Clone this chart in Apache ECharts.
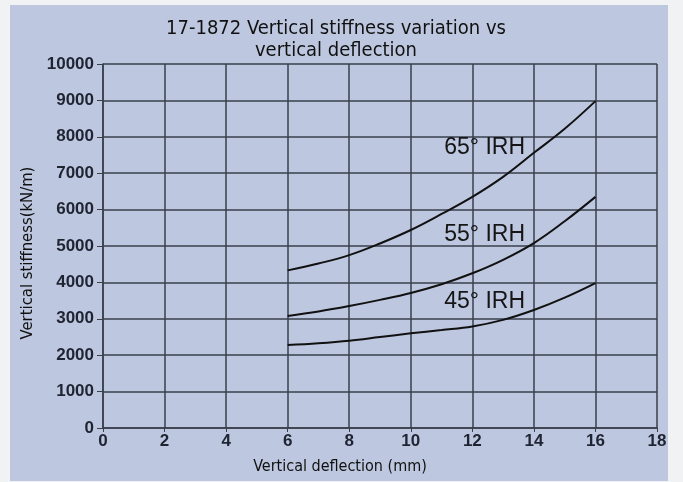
<!DOCTYPE html>
<html>
<head>
<meta charset="utf-8">
<script src="https://cdn.jsdelivr.net/npm/echarts@6/dist/echarts.min.js"></script>
<style>
  html, body { margin: 0; padding: 0; background: #f1f2f4; }
  #chart { width: 683px; height: 482px; }
</style>
</head>
<body>
<div id="chart"></div>
<script>
// deflection (mm)
const deflection = [6, 7, 8, 9, 10, 11, 12, 13, 14, 15, 16]
// stiffness (kN/m) for each rubber hardness
const irh65 = [4330, 4520, 4750, 5070, 5440, 5880, 6350, 6900, 7560, 8220, 8980]
const irh55 = [3080, 3200, 3350, 3520, 3710, 3950, 4250, 4620, 5080, 5680, 6350]
const irh45 = [2280, 2330, 2400, 2500, 2600, 2690, 2790, 2970, 3240, 3580, 3980]
const curveLabels = ['65° IRH', '55° IRH', '45° IRH']
const labelAt = [[12.4, 7690], [12.4, 5300], [12.4, 3460]]

const chart = echarts.init(document.getElementById('chart'))

function pairs(ys) {
  return deflection.map((x, i) => [x, ys[i]])
}

function curve(name, ys, idx) {
  return {
    name: name,
    type: 'line',
    smooth: 0.4,
    symbol: 'none',
    data: pairs(ys),
    lineStyle: { color: '#111', width: 2 },
    markPoint: {
      symbol: 'rect',
      symbolSize: 0,
      data: [{ coord: labelAt[idx] }],
      label: {
        show: true,
        position: 'inside',
        formatter: curveLabels[idx],
        fontFamily: 'Liberation Sans, Arial, sans-serif',
        fontSize: 23,
        color: '#151515'
      }
    }
  }
}

const gridLine = { show: true, lineStyle: { color: '#3a3f4c', width: 1.5 } }
const tickFont = {
  fontFamily: 'Liberation Sans, Arial, sans-serif',
  fontSize: 17,
  fontWeight: 'bold',
  color: '#1f2433'
}

chart.setOption({
  backgroundColor: '#f1f2f4',
  animation: false,
  graphic: [{
    type: 'rect',
    z: -100,
    silent: true,
    shape: { x: 10, y: 5, width: 658, height: 476 },
    style: { fill: '#bdc7df' }
  }],
  title: {
    text: '17-1872 Vertical stiffness variation vs\nvertical deflection',
    left: 331,
    textAlign: 'center',
    top: 13,
    textStyle: {
      fontFamily: 'Liberation Sans Narrow, DejaVu Sans Condensed, sans-serif',
      fontWeight: 'normal',
      fontSize: 20,
      lineHeight: 22,
      color: '#111'
    }
  },
  grid: { left: 103, right: 26, top: 64, bottom: 54 },
  xAxis: {
    type: 'value',
    min: 0,
    max: 18,
    interval: 2,
    name: 'Vertical deflection (mm)',
    nameLocation: 'middle',
    nameGap: 31,
    nameTextStyle: {
      fontFamily: 'Liberation Sans Narrow, DejaVu Sans Condensed, sans-serif',
      fontSize: 16,
      color: '#111',
      padding: [0, 80, 0, 0]
    },
    axisLine: { lineStyle: { color: '#3a3f4c', width: 1.5 } },
    axisTick: { show: true, length: 4, lineStyle: { color: '#3a3f4c' } },
    axisLabel: Object.assign({ margin: 5 }, tickFont),
    splitLine: gridLine
  },
  yAxis: {
    type: 'value',
    min: 0,
    max: 10000,
    interval: 1000,
    name: 'Vertical stiffness(kN/m)',
    nameLocation: 'middle',
    nameGap: 63,
    nameTextStyle: {
      fontFamily: 'Liberation Sans Narrow, DejaVu Sans Condensed, sans-serif',
      fontSize: 16.5,
      color: '#111',
      padding: [0, 14, 0, 0]
    },
    axisLine: { show: true, lineStyle: { color: '#3a3f4c', width: 1.5 } },
    axisTick: { show: true, length: 6, lineStyle: { color: '#3a3f4c' } },
    axisLabel: Object.assign({ margin: 9, formatter: v => String(v) }, tickFont),
    splitLine: gridLine
  },
  series: [
    curve('65° IRH', irh65, 0),
    curve('55° IRH', irh55, 1),
    curve('45° IRH', irh45, 2)
  ]
})
</script>
</body>
</html>
